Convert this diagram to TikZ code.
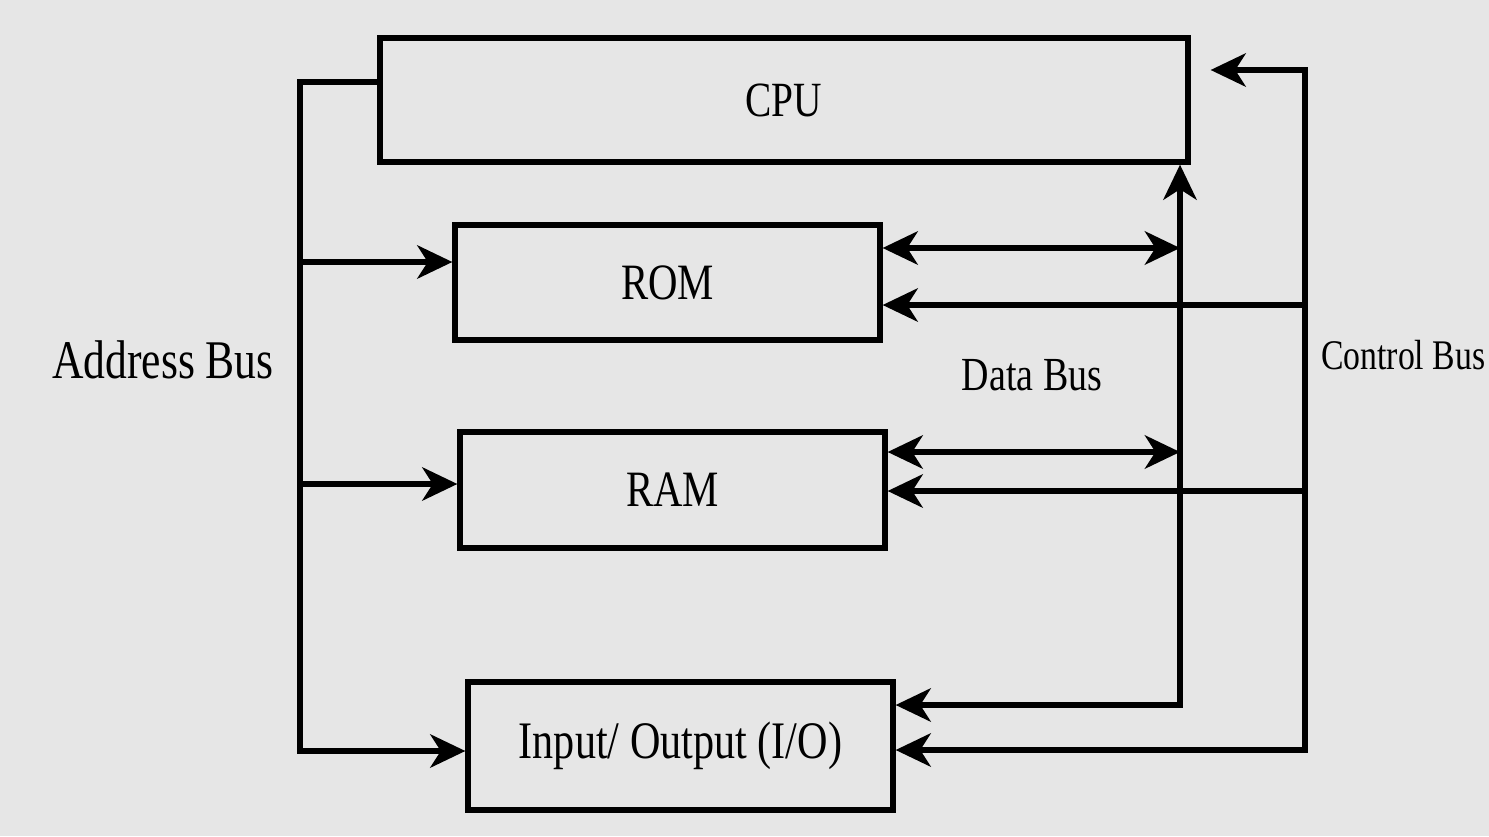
\documentclass[tikz,border=0pt]{standalone}
\usepackage{fontspec}
\setmainfont[FakeStretch=0.8]{Liberation Serif}
\usetikzlibrary{arrows.meta,calc}
\definecolor{paper}{RGB}{230,230,230}
\tikzset{
  box/.style={draw=black, line width=1.5pt, fill=paper, minimum width=4.25cm, inner sep=0pt},
  bus/.style={draw=black, line width=1.5pt, line join=miter},
  tip/.tip={Stealth[length=10pt,width=9.5pt,inset=3pt]},
  arr/.style={bus, -tip},
  dbl/.style={bus, tip-tip},
  lbl/.style={inner sep=1pt}
}
\begin{document}
\begin{tikzpicture}
\fill[paper] (0,0) rectangle (14.89,8.36);
\useasboundingbox (0,0) rectangle (14.89,8.36);

% boxes
\node[box, minimum width=8.08cm, minimum height=1.24cm, font=\fontsize{14}{16}\selectfont] (CPU) at (7.84,7.36) {CPU};
\node[box, minimum height=1.15cm, font=\fontsize{14.5}{16}\selectfont] (ROM) at (6.675,5.535) {ROM};
\node[box, minimum height=1.16cm, font=\fontsize{14.5}{16}\selectfont] (RAM) at (6.725,3.46) {RAM};
\node[box, minimum height=1.28cm, font=\fontsize{15}{17}\selectfont] (IO) at (6.805,0.90) {Input/ Output (I/O)};

% labels
\node[lbl, font=\fontsize{15.5}{17}\selectfont] (abl) at (1.63,4.76) {Address Bus};
\node[lbl, font=\fontsize{13.5}{15}\selectfont] (dbl) at (10.32,4.61) {Data Bus};
\node[lbl, anchor=west, font=\fontsize{12}{14}\selectfont] (cbl) at (13.17,4.81) {Control Bus};

% address bus
\coordinate (aT) at (3.00,7.54);
\coordinate (aR) at (3.00,5.74);
\coordinate (aA) at (3.00,3.52);
\coordinate (aI) at (3.00,0.85);
\draw[arr] (aT -| CPU.west) -- (aT) -- (aI) -- (aI -| IO.west);
\draw[arr] (aR) -- (aR -| ROM.west);
\draw[arr] (aA) -- (aA -| RAM.west);

% data bus
\coordinate (dR) at (11.80,5.88);
\coordinate (dA) at (11.80,3.84);
\coordinate (dI) at (11.80,1.31);
\draw[dbl] (CPU.south -| dI) -- (dI) -- (dI -| IO.east);
\draw[dbl] (dR -| ROM.east) -- (dR);
\draw[dbl] (dA -| RAM.east) -- (dA);

% control bus
\coordinate (cT) at (13.05,7.66);
\coordinate (cR) at (13.05,5.31);
\coordinate (cA) at (13.05,3.45);
\coordinate (cI) at (13.05,0.86);
\draw[dbl] ([xshift=0.2cm]CPU.east |- cT) -- (cT) -- (cI) -- (cI -| IO.east);
\draw[arr] (cR) -- (cR -| ROM.east);
\draw[arr] (cA) -- (cA -| RAM.east);
\end{tikzpicture}
\end{document}
